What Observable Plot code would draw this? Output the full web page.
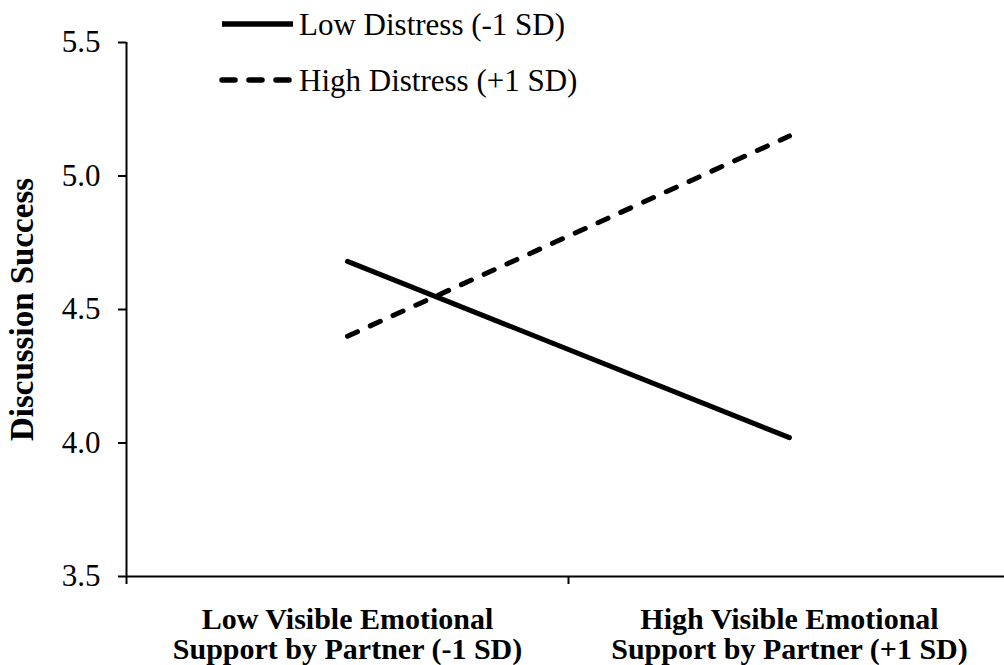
<!DOCTYPE html>
<html><head><meta charset="utf-8">
<script src="https://cdn.jsdelivr.net/npm/d3@7"></script>
<script src="https://cdn.jsdelivr.net/npm/@observablehq/plot@0.6"></script>
<style>
html,body{margin:0;padding:0;background:#fff;}
#chart{position:relative;width:1004px;height:665px;overflow:hidden;}
#chart svg text{font-family:"Liberation Serif","Times New Roman",serif;}
#legend{position:absolute;left:0;top:0;}
</style></head><body><div id="chart"></div>
<script>
const categories = ["Low Visible Emotional\nSupport by Partner (-1 SD)", "High Visible Emotional\nSupport by Partner (+1 SD)"];
const series = ["Low Distress (-1 SD)", "High Distress (+1 SD)"];
const lowDistress = [4.68, 4.02];
const highDistress = [4.40, 5.15];
const yTicks = [3.5, 4.0, 4.5, 5.0, 5.5];
const yLabel = "Discussion Success";
const dashes = [null, "11,14"];

const data = [];
categories.forEach((c, i) => {
  data.push({series: series[0], pos: i + 0.5, value: lowDistress[i]});
  data.push({series: series[1], pos: i + 0.5, value: highDistress[i]});
});

const font = '"Liberation Serif","Times New Roman",serif';
const plot = Plot.plot({
  width: 1004, height: 665,
  marginLeft: 126, marginRight: 0, marginTop: 42, marginBottom: 89,
  style: {fontFamily: font, background: "#fff", color: "#000"},
  x: {domain: [0, categories.length], range: [126, 1010], axis: null},
  y: {domain: [3.5, 5.5], axis: null},
  marks: [
    Plot.axisY({ticks: yTicks, tickFormat: d3.format(".1f"), tickSize: 8, tickPadding: 18, fontSize: 31, fontFamily: font, strokeWidth: 2, label: null}),
    Plot.axisX({ticks: d3.range(categories.length + 1), tickFormat: () => "", tickSize: 8, strokeWidth: 2, label: null}),
    Plot.ruleX([0], {y1: 3.5, y2: 5.5, strokeWidth: 2}),
    Plot.ruleY([3.5], {strokeWidth: 2}),
    Plot.text(categories, {x: (d, i) => i + 0.5, y: 3.5, text: d => d, fontSize: 30, fontFamily: font, fontWeight: "bold", lineAnchor: "top", dy: 31, lineHeight: 1.0}),
    Plot.text([yLabel], {frameAnchor: "left", textAnchor: "middle", rotate: -90, dx: -104, fontSize: 33, fontFamily: font, fontWeight: "bold"}),
    ...series.map((s, k) => Plot.line(data, {filter: d => d.series === s, x: "pos", y: "value", stroke: "#000", strokeWidth: 5, strokeDasharray: dashes[k] || undefined}))
  ]
});
const chart = document.getElementById("chart");
chart.appendChild(plot);

// legend overlay
const leg = d3.select(chart).append("svg").attr("id", "legend").attr("width", 1004).attr("height", 110);
series.forEach((s, k) => {
  const y = 24 + k * 56;
  leg.append("line").attr("x1", 222).attr("x2", 293).attr("y1", y).attr("y2", y)
    .attr("stroke", "#000").attr("stroke-width", 5.5).attr("stroke-linecap", k ? "round" : "butt")
    .attr("stroke-dasharray", k ? "13,14" : null);
  leg.append("text").attr("x", 299).attr("y", y + 11).attr("font-family", font).attr("font-size", 31)
    .attr("fill", "#000").text(s);
});
</script></body></html>
